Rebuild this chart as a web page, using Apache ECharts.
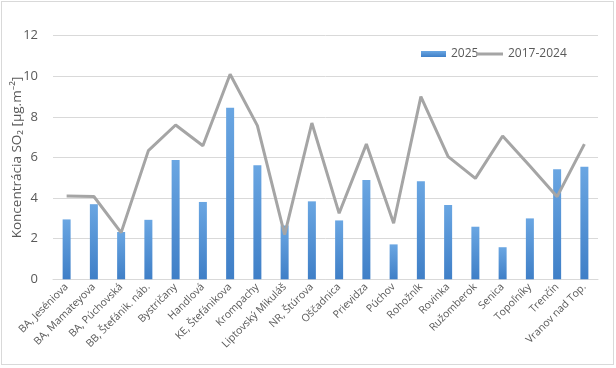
<!DOCTYPE html>
<html>
<head>
<meta charset="utf-8">
<script src="https://cdn.jsdelivr.net/npm/echarts@6/dist/echarts.min.js"></script>
<style>
html,body{margin:0;padding:0;background:#fff;}
#wrap{position:absolute;left:0;top:0;width:616px;height:368px;}
#frame{position:absolute;left:1px;top:1px;width:613px;height:364px;border:1px solid #d9d9d9;box-sizing:border-box;pointer-events:none;}
#chart{position:absolute;left:0;top:0;width:616px;height:368px;}
</style>
</head>
<body>
<div id="wrap"><div id="chart"></div><div id="frame"></div></div>
<script>
const categories = ["BA, Jeséniova","BA, Mamateyova","BA, Púchovská","BB, Štefánik. náb.","Bystričany","Handlová","KE, Štefánikova","Krompachy","Liptovský Mikuláš","NR, Štúrova","Oščadnica","Prievidza","Púchov","Rohožník","Rovinka","Ružomberok","Senica","Topoľníky","Trenčín","Vranov nad Top."];
const values2025 = [2.95,3.7,2.33,2.93,5.88,3.81,8.45,5.62,2.65,3.84,2.9,4.89,1.72,4.83,3.66,2.59,1.58,3.0,5.42,5.55];
const values2017_2024 = [4.1,4.08,2.3,6.34,7.6,6.58,10.1,7.57,2.2,7.7,3.25,6.66,2.76,9.0,6.04,4.97,7.06,5.58,4.07,6.66];
const seriesNames = ["2025","2017-2024"];
const yTicks = {min:0,max:12,interval:2};

const chart = echarts.init(document.getElementById('chart'), null, {renderer:'canvas'});
const font = "'Open Sans', 'Noto Sans', 'DejaVu Sans', sans-serif";
chart.setOption({
  animation:false,
  textStyle:{fontFamily:font},
  grid:{left:53,right:18,top:35.7,bottom:88.7,containLabel:false,outerBoundsMode:'none'},
  legend:[{
    left:421, top:48, padding:0,
    itemWidth:25, itemHeight:6, itemGap:3,
    textStyle:{color:'#595959',fontSize:12,fontFamily:font},
    data:[{name:seriesNames[0],icon:'rect'}]
  },{
    left:476, top:48, padding:0,
    itemWidth:27, itemHeight:3,
    textStyle:{color:'#595959',fontSize:12,fontFamily:font},
    data:[{name:seriesNames[1],icon:'rect'}]
  }],
  xAxis:{
    type:'category', data:categories,
    axisLine:{lineStyle:{color:'#d9d9d9',width:1}},
    axisTick:{show:false},
    axisLabel:{rotate:45,interval:0,fontSize:10.5,color:'#595959',margin:6,fontFamily:font}
  },
  yAxis:{
    type:'value', min:yTicks.min, max:yTicks.max, interval:yTicks.interval,
    axisLine:{show:false}, axisTick:{show:false},
    splitLine:{lineStyle:{color:'#d9d9d9',width:1}},
    axisLabel:{fontSize:13,color:'#595959',margin:15,fontFamily:font},
    name:'Koncentrácia SO₂ [µg.m⁻²]',
    nameLocation:'middle', nameGap:29, nameRotate:90, nameMoveOverlap:false,
    nameTextStyle:{fontSize:13.5,color:'#595959',fontFamily:font}
  },
  series:[
    {
      name:seriesNames[0], type:'bar', data:values2025, barWidth:8,
      itemStyle:{color:new echarts.graphic.LinearGradient(0,0,0,1,[{offset:0,color:'#6aa6e2'},{offset:1,color:'#3f7fc7'}])},
      z:2
    },
    {
      name:seriesNames[1], type:'line', data:values2017_2024,
      symbol:'none', showSymbol:false,
      lineStyle:{color:'#a5a5a5',width:3},
      itemStyle:{color:'#a5a5a5'},
      z:3
    }
  ]
});
</script>
</body>
</html>
